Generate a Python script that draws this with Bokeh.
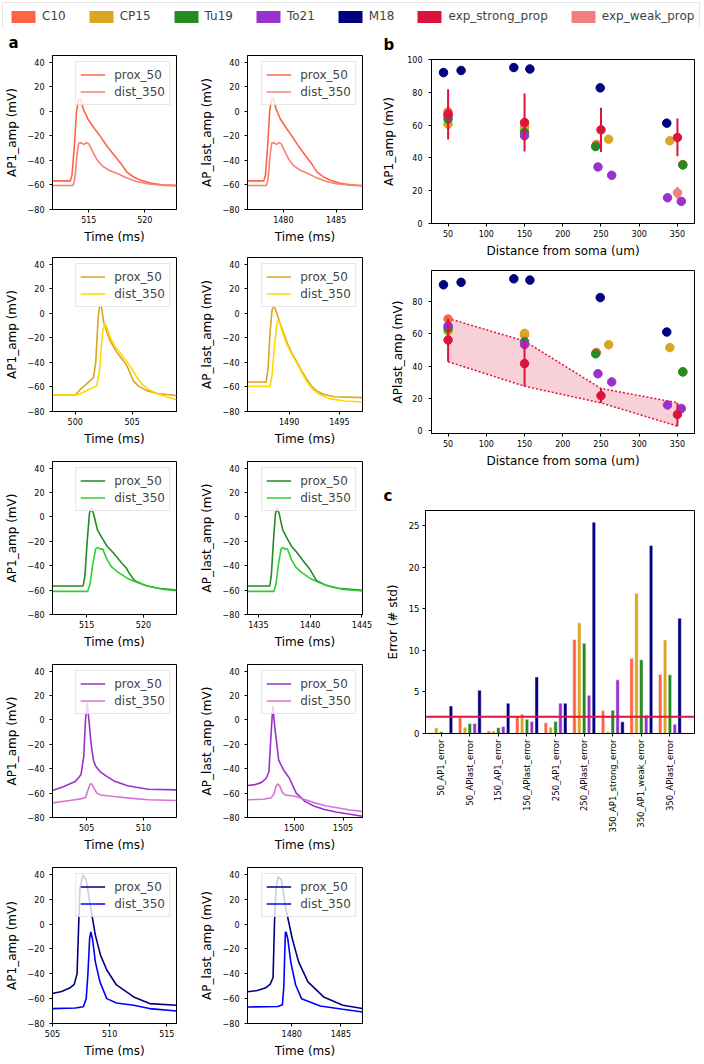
import math
from bokeh.plotting import figure
from bokeh.layouts import row, column
from bokeh.models import (Legend, LegendItem, FixedTicker, SingleIntervalTicker,
                          CustomJSTickFormatter, Span)
from bokeh.embed import file_html
from bokeh.resources import INLINE

FONT = "DejaVu Sans"
NAN = float("nan")

# ---------------- names / colours ----------------
models = ["C10", "CP15", "Tu19", "To21", "M18"]
model_colors = ["tomato", "goldenrod", "forestgreen", "darkorchid", "navy"]
dist_colors = ["salmon", "gold", "limegreen", "orchid", "blue"]
exp_labels = ["exp_strong_prop", "exp_weak_prop"]
exp_colors = ["crimson", "lightcoral"]

# ---------------- panel a : voltage traces (time ms, voltage mV) ----------------
C10_ap1_prox_t = [511.76, 513.35, 513.5, 513.7, 513.9, 514.1, 514.25, 514.5, 514.9, 515.5, 516.0, 516.6, 517.2, 517.5, 517.9, 518.4, 519.0, 519.6, 520.5, 521.5, 522.83]
C10_ap1_prox_v = [-56.7, -56.7, -52, -30, 0, 10.5, 10, 2, -6, -14, -20, -28, -35, -38.5, -43, -49.5, -53.5, -56, -58.5, -59.8, -60.3]
C10_ap1_dist_t = [511.76, 513.6, 513.75, 513.95, 514.1, 514.3, 514.55, 514.8, 515.0, 515.3, 515.7, 516.2, 516.8, 517.5, 518.3, 519.2, 520.2, 521.5, 522.83]
C10_ap1_dist_v = [-60.5, -60.5, -55, -35, -26, -25.5, -27, -25.5, -26.5, -32, -39, -44.5, -48, -50.5, -54, -57, -59, -60.2, -60.8]
C10_last_prox_t = [1476.6, 1478.15, 1478.3, 1478.5, 1478.7, 1478.9, 1479.05, 1479.3, 1479.7, 1480.3, 1480.8, 1481.4, 1482.0, 1482.3, 1482.7, 1483.2, 1483.8, 1484.4, 1485.3, 1486.3, 1487.5]
C10_last_prox_v = [-56.7, -56.7, -52, -30, 0, 11, 10.5, 2, -6, -14, -20, -28, -35, -38.5, -43, -49.5, -53.5, -56, -58.5, -59.8, -60.5]
C10_last_dist_t = [1476.6, 1478.4, 1478.55, 1478.75, 1478.9, 1479.1, 1479.35, 1479.6, 1479.8, 1480.1, 1480.5, 1481.0, 1481.6, 1482.3, 1483.1, 1484.0, 1485.0, 1486.3, 1487.5]
C10_last_dist_v = [-60.5, -60.5, -55, -35, -26, -25.5, -27, -25.5, -26.5, -32, -39, -44.5, -48, -50.5, -54, -57, -59, -60.2, -60.8]

CP15_ap1_prox_t = [498.0, 500.0, 500.5, 501.0, 501.6, 501.8, 502.0, 502.15, 502.3, 502.5, 502.8, 503.1, 503.6, 504.0, 504.5, 504.8, 505.1, 505.6, 506.3, 507.3, 508.9]
CP15_ap1_prox_v = [-66.5, -66.5, -61.5, -57.5, -52.5, -40, -5, 7, 5, -7, -16, -23, -31, -36, -42, -48, -55, -59.5, -63, -65.5, -67]
CP15_ap1_dist_t = [498.0, 500.2, 501.0, 501.9, 502.15, 502.4, 502.6, 502.8, 503.1, 503.5, 504.0, 504.5, 504.9, 505.4, 505.9, 506.5, 507.5, 508.9]
CP15_ap1_dist_v = [-66.5, -66.5, -63, -59, -45, -15, -8, -12, -20, -27, -33, -39, -44, -52, -58, -62.5, -66.5, -70.4]
CP15_last_prox_t = [1485.85, 1487.7, 1487.9, 1488.1, 1488.3, 1488.45, 1488.65, 1489.0, 1489.4, 1489.9, 1490.3, 1490.8, 1491.25, 1491.7, 1492.2, 1492.8, 1493.4, 1494.5, 1497.3]
CP15_last_prox_v = [-56, -56, -45, -15, 3, 6.4, 3, -6, -15, -26, -33, -40, -47, -53, -59, -63.5, -66, -68, -68.7]
CP15_last_dist_t = [1485.85, 1488.1, 1488.3, 1488.55, 1488.75, 1488.9, 1489.1, 1489.4, 1489.8, 1490.3, 1490.8, 1491.3, 1491.8, 1492.3, 1493.0, 1494.0, 1495.5, 1497.3]
CP15_last_dist_v = [-59.5, -59.5, -50, -25, -10, -5.6, -9, -17, -26, -34, -41, -49, -56, -61.5, -66, -69.5, -71.5, -72.3]

Tu19_ap1_prox_t = [512.0, 514.7, 514.85, 515.05, 515.25, 515.4, 515.6, 515.95, 516.4, 516.8, 517.3, 517.7, 518.1, 518.5, 518.7, 519.2, 520.1, 521.3, 522.9]
Tu19_ap1_prox_v = [-56.6, -56.6, -48, -20, 3, 7, 3, -10.5, -18, -24, -29, -33.5, -38, -42, -45.5, -52, -56, -58.5, -60]
Tu19_ap1_dist_t = [512.0, 515.1, 515.3, 515.55, 515.8, 516.0, 516.2, 516.4, 516.8, 517.2, 517.7, 518.6, 519.5, 520.5, 521.8, 522.9]
Tu19_ap1_dist_v = [-61, -61, -55, -38, -26, -25, -26.5, -26, -35, -41, -45, -50.4, -54, -57, -59.5, -60.5]
Tu19_last_prox_t = [1433.95, 1436.1, 1436.25, 1436.45, 1436.65, 1436.8, 1437.0, 1437.35, 1437.8, 1438.2, 1438.7, 1439.1, 1439.5, 1439.9, 1440.15, 1440.6, 1441.5, 1442.7, 1445.05]
Tu19_last_prox_v = [-56.6, -56.6, -48, -20, 3, 7, 3, -10.5, -18, -24, -29, -33.5, -38, -42, -45.5, -52, -56, -58.5, -60.2]
Tu19_last_dist_t = [1433.95, 1436.5, 1436.7, 1436.95, 1437.2, 1437.4, 1437.6, 1437.8, 1438.2, 1438.6, 1439.1, 1440.0, 1440.9, 1441.9, 1443.2, 1445.05]
Tu19_last_dist_v = [-61, -61, -55, -38, -26, -25, -26.5, -26, -35, -41, -45, -50.4, -54, -57, -59.5, -60.7]

To21_ap1_prox_t = [502.0, 503.0, 504.0, 504.5, 504.75, 504.9, 505.05, 505.2, 505.4, 505.6, 505.8, 506.2, 506.8, 507.4, 508.6, 510.4, 512.9]
To21_ap1_prox_v = [-57.9, -54.5, -50.5, -45, -30, 0, 14.3, 0, -20, -33, -38, -42.5, -46.5, -50, -54, -56.8, -57.3]
To21_ap1_dist_t = [502.0, 503.5, 504.6, 504.9, 505.1, 505.3, 505.45, 505.65, 505.9, 506.2, 507.4, 509.0, 510.4, 512.9]
To21_ap1_dist_v = [-68, -66, -64.5, -63.5, -58, -52.5, -52.5, -56, -60, -61.5, -62.8, -64.3, -65.4, -66]
To21_last_prox_t = [1495.2, 1496.0, 1496.6, 1497.1, 1497.4, 1497.6, 1497.8, 1498.0, 1498.4, 1498.9, 1499.5, 1500.2, 1501.1, 1502.0, 1503.1, 1504.4, 1507.0]
To21_last_prox_v = [-53.8, -53, -51.4, -48, -42.5, -14, 11.6, -6, -33, -41, -47.8, -60, -66.8, -70.5, -73.5, -75.7, -79]
To21_last_dist_t = [1495.2, 1496.8, 1497.6, 1497.9, 1498.1, 1498.3, 1498.5, 1498.75, 1499.0, 1500.2, 1501.0, 1502.1, 1503.3, 1504.4, 1505.7, 1507.0]
To21_last_dist_v = [-65.4, -65, -64, -61, -55, -52.4, -54, -59, -61.4, -62.8, -65, -68, -70.5, -72, -73.8, -75]

M18_ap1_prox_t = [505.0, 505.8, 506.5, 506.9, 507.15, 507.3, 507.4, 507.65, 507.95, 508.3, 508.75, 509.2, 509.75, 510.6, 512.1, 513.5, 515.85]
M18_ap1_prox_v = [-55.9, -54.3, -51.5, -48.5, -40, 2, 28.7, 39.5, 35.5, 15.3, -8.9, -25, -37, -49, -58.6, -64, -65.3]
M18_ap1_dist_t = [505.0, 507.0, 507.7, 507.95, 508.1, 508.25, 508.35, 508.5, 508.75, 509.15, 509.75, 510.6, 512.1, 513.5, 515.85]
M18_ap1_dist_v = [-68, -67.5, -66.5, -60, -40, -11.6, -6.2, -12, -30.4, -46.5, -60, -63.5, -65.3, -68, -69.9]
M18_last_prox_t = [1475.5, 1476.5, 1477.3, 1477.8, 1478.1, 1478.25, 1478.4, 1478.6, 1478.95, 1479.4, 1480.05, 1480.7, 1481.65, 1483.25, 1485.2, 1487.2]
M18_last_prox_v = [-54.5, -53.5, -51.5, -48.5, -43, 2, 28.7, 38, 35.5, 12.5, -11.6, -30.4, -46.5, -58.6, -65.3, -68]
M18_last_dist_t = [1475.5, 1478.6, 1479.05, 1479.2, 1479.3, 1479.36, 1479.45, 1479.6, 1479.9, 1480.4, 1481.0, 1482.9, 1485.2, 1487.2]
M18_last_dist_v = [-66.7, -66.3, -65, -50, -20, -6.2, -7, -12, -30.4, -49, -60, -65.9, -68.6, -70.7]

# ---------------- panel b : amplitude vs distance ----------------
C10_dist = [50, 150, 244, 357]
C10_ap1_amp = [68.0, 59.0, 48.2, 36.0]
C10_last_amp = [69.3, 59.5, 48.5, 36.5]
CP15_dist = [50, 150, 260, 340]
CP15_ap1_amp = [60.5, 58.2, 51.4, 50.4]
CP15_last_amp = [61.7, 60.4, 53.3, 51.5]
Tu19_dist = [50, 150, 243, 357]
Tu19_ap1_amp = [63.7, 55.5, 46.9, 35.7]
Tu19_last_amp = [63.5, 55.2, 47.6, 36.3]
To21_dist = [50, 150, 246, 264, 337, 355]
To21_ap1_amp = [66.0, 53.5, 34.5, 29.4, 15.7, 13.5]
To21_last_amp = [65.0, 53.5, 35.2, 30.1, 15.7, 13.5]
M18_dist = [44, 67, 136, 157, 249, 336]
M18_ap1_amp = [92.0, 93.3, 95.1, 94.2, 82.7, 61.2]
M18_last_amp = [90.7, 92.2, 94.4, 93.6, 82.7, 61.2]

exp_dist = [50, 150, 250, 350]
strong_ap1_mean = [66.5, 61.6, 57.1, 52.5]
strong_ap1_std = [15.3, 17.7, 13.5, 11.5]
weak_dist = [350]
weak_ap1_mean = [18.7]
weak_ap1_std = [3.7]
strong_last_mean = [56.2, 41.5, 21.5, 9.8]
strong_last_std = [13.5, 14.1, 4.5, 7.3]

# ---------------- panel c : errors ----------------
error_labels = ["50_AP1_error", "50_APlast_error", "150_AP1_error", "150_APlast_error",
                "250_AP1_error", "250_APlast_error", "350_AP1_strong_error",
                "350_AP1_weak_error", "350_APlast_error"]
err_C10 = [0.1, 1.9, 0.3, 2.1, 1.3, 11.3, 2.75, 9.05, 7.1]
err_CP15 = [0.7, 0.75, 0.3, 2.35, 0.75, 13.3, 0.25, 16.85, 11.25]
err_Tu19 = [0.2, 1.2, 0.7, 1.7, 1.45, 10.85, 2.8, 8.85, 7.05]
err_To21 = [0.05, 1.2, 0.85, 1.45, 3.65, 4.6, 6.45, 2.2, 1.1]
err_M18 = [3.3, 5.2, 3.65, 6.8, 3.65, 25.4, 1.4, 22.6, 13.85]
threshold = 2

MINUS_JS = "return tick < 0 ? '\\u2212' + Math.abs(tick).toString() : tick.toString();"


def style(p, tick_size="8px", lab_std=6, maj_std=5):
    p.outline_line_color = "black"
    p.outline_line_width = 1
    p.xgrid.grid_line_color = None
    p.ygrid.grid_line_color = None
    p.background_fill_color = "white"
    p.border_fill_color = "white"
    for ax in p.axis:
        ax.major_label_text_font = FONT
        ax.major_label_text_font_size = tick_size
        ax.major_label_text_color = "black"
        ax.axis_label_text_font = FONT
        ax.axis_label_text_font_size = "12px"
        ax.axis_label_text_font_style = "normal"
        ax.axis_label_text_color = "black"
        ax.major_tick_in = 0
        ax.major_tick_out = 3
        ax.minor_tick_line_color = None
        ax.axis_line_color = "black"
        ax.major_tick_line_color = "black"
        ax.major_label_standoff = maj_std
        ax.axis_label_standoff = lab_std


def panel_letter(p, letter, offset, standoff):
    p.title.text = letter
    p.title.align = "left"
    p.title.offset = offset
    p.title.standoff = standoff
    p.title.text_font = FONT
    p.title.text_font_size = "15px"
    p.title.text_font_style = "bold"
    p.title.text_color = "black"


def trace_fig(xr, pt, pv, dt, dv, pc, dc, ylabel, width, mbl, mbr, height, mbt, mbb):
    p = figure(width=width, height=height, x_range=xr, y_range=(-80, 45.5),
               output_backend="svg", toolbar_location=None,
               min_border_left=mbl, min_border_right=mbr,
               min_border_top=mbt, min_border_bottom=mbb)
    p.line(pt, pv, line_color=pc, line_width=1.6, legend_label="prox_50")
    p.line(dt, dv, line_color=dc, line_width=1.6, legend_label="dist_350")
    style(p, lab_std=6, maj_std=5)
    p.xaxis.major_label_standoff = 3
    p.xaxis.axis_label_standoff = 4
    p.xaxis.ticker = SingleIntervalTicker(interval=5, num_minor_ticks=0)
    p.yaxis.ticker = FixedTicker(ticks=[-80, -60, -40, -20, 0, 20, 40])
    p.yaxis.formatter = CustomJSTickFormatter(code=MINUS_JS)
    p.xaxis.axis_label = "Time (ms)"
    p.yaxis.axis_label = ylabel
    leg = p.legend[0]
    leg.location = "top_right"
    leg.margin = 6
    leg.padding = 4
    leg.spacing = 0
    leg.glyph_width = 25
    leg.glyph_height = 17
    leg.label_height = 17
    leg.label_standoff = 9
    leg.label_text_font = FONT
    leg.label_text_font_size = "12px"
    leg.border_line_color = "#cccccc"
    leg.border_line_width = 1
    leg.background_fill_alpha = 0.8
    return p


rows_a = [
    ((511.76, 522.83), (1476.6, 1487.5),
     (C10_ap1_prox_t, C10_ap1_prox_v, C10_ap1_dist_t, C10_ap1_dist_v),
     (C10_last_prox_t, C10_last_prox_v, C10_last_dist_t, C10_last_dist_v)),
    ((498.0, 508.9), (1485.85, 1497.3),
     (CP15_ap1_prox_t, CP15_ap1_prox_v, CP15_ap1_dist_t, CP15_ap1_dist_v),
     (CP15_last_prox_t, CP15_last_prox_v, CP15_last_dist_t, CP15_last_dist_v)),
    ((512.0, 522.9), (1433.95, 1445.05),
     (Tu19_ap1_prox_t, Tu19_ap1_prox_v, Tu19_ap1_dist_t, Tu19_ap1_dist_v),
     (Tu19_last_prox_t, Tu19_last_prox_v, Tu19_last_dist_t, Tu19_last_dist_v)),
    ((502.0, 512.9), (1495.2, 1507.0),
     (To21_ap1_prox_t, To21_ap1_prox_v, To21_ap1_dist_t, To21_ap1_dist_v),
     (To21_last_prox_t, To21_last_prox_v, To21_last_dist_t, To21_last_dist_v)),
    ((505.0, 515.85), (1475.5, 1487.2),
     (M18_ap1_prox_t, M18_ap1_prox_v, M18_ap1_dist_t, M18_ap1_dist_v),
     (M18_last_prox_t, M18_last_prox_v, M18_last_dist_t, M18_last_dist_v)),
]
# (top border, bottom border) for each row; frame height 156
row_borders = [(27, 35), (11, 35), (13, 34), (13, 34), (13, 37)]

a_rows = []
for i, (xl, xr, L, R) in enumerate(rows_a):
    mbt, mbb = row_borders[i]
    h = mbt + 156 + mbb
    pl = trace_fig(xl, *L, model_colors[i], dist_colors[i], "AP1_amp (mV)",
                   196, 52, 20, h, mbt, mbb)
    pr = trace_fig(xr, *R, model_colors[i], dist_colors[i], "AP_last_amp (mV)",
                   176, 43, 10, h, mbt, mbb)
    if i == 0:
        panel_letter(pl, "a", -44, 7)
    a_rows.append(row(pl, pr))

left_col = column(*a_rows)

# ---------------- panel b ----------------
b_sets = [
    (C10_dist, C10_ap1_amp, C10_last_amp, model_colors[0]),
    (CP15_dist, CP15_ap1_amp, CP15_last_amp, model_colors[1]),
    (Tu19_dist, Tu19_ap1_amp, Tu19_last_amp, model_colors[2]),
    (To21_dist, To21_ap1_amp, To21_last_amp, model_colors[3]),
    (M18_dist, M18_ap1_amp, M18_last_amp, model_colors[4]),
]


def dist_fig(ylabel, yr, yticks, height, mbt, mbb, lab_std):
    p = figure(width=332, height=height, x_range=(28.3, 372.3), y_range=yr,
               output_backend="svg", toolbar_location=None,
               min_border_left=59, min_border_right=10,
               min_border_top=mbt, min_border_bottom=mbb)
    style(p, lab_std=lab_std, maj_std=6)
    p.xaxis.major_label_standoff = 3
    p.xaxis.axis_label_standoff = 4
    p.xaxis.ticker = FixedTicker(ticks=[50, 100, 150, 200, 250, 300, 350])
    p.yaxis.ticker = FixedTicker(ticks=yticks)
    p.xaxis.axis_label = "Distance from soma (um)"
    p.yaxis.axis_label = ylabel
    return p


b1 = dist_fig("AP1_amp (mV)", (0, 100), [0, 20, 40, 60, 80, 100], 235, 31, 40, 8)
panel_letter(b1, "b", -48, 11)
for xs, ap1, last, col in b_sets:
    b1.scatter(xs, ap1, size=8.5, fill_color=col, line_color=col)
b1.segment(x0=exp_dist, y0=[m - s for m, s in zip(strong_ap1_mean, strong_ap1_std)],
           x1=exp_dist, y1=[m + s for m, s in zip(strong_ap1_mean, strong_ap1_std)],
           line_color=exp_colors[0], line_width=2)
b1.scatter(exp_dist, strong_ap1_mean, size=8.5, fill_color=exp_colors[0], line_color=exp_colors[0])
b1.segment(x0=weak_dist, y0=[m - s for m, s in zip(weak_ap1_mean, weak_ap1_std)],
           x1=weak_dist, y1=[m + s for m, s in zip(weak_ap1_mean, weak_ap1_std)],
           line_color=exp_colors[1], line_width=2)
b1.scatter(weak_dist, weak_ap1_mean, size=8.5, fill_color=exp_colors[1], line_color=exp_colors[1])

b2 = dist_fig("APlast_amp (mV)", (-2.1, 99.6), [0, 20, 40, 60, 80], 212, 7, 42, 4)
lower = [m - s for m, s in zip(strong_last_mean, strong_last_std)]
upper = [m + s for m, s in zip(strong_last_mean, strong_last_std)]
b2.varea(x=exp_dist, y1=lower, y2=upper, fill_color=exp_colors[0], fill_alpha=0.2)
b2.line(exp_dist, upper, line_color=exp_colors[0], line_width=1.5, line_dash="2 2")
b2.line(exp_dist, lower, line_color=exp_colors[0], line_width=1.5, line_dash="2 2")
for xs, ap1, last, col in b_sets:
    b2.scatter(xs, last, size=8.5, fill_color=col, line_color=col)
b2.segment(x0=exp_dist, y0=lower, x1=exp_dist, y1=upper, line_color=exp_colors[0], line_width=2)
b2.scatter(exp_dist, strong_last_mean, size=8.5, fill_color=exp_colors[0], line_color=exp_colors[0])

# ---------------- panel c ----------------
cf = figure(width=332, height=368, x_range=(-0.55, 8.86), y_range=(0, 26.8),
            output_backend="svg", toolbar_location=None,
            min_border_left=53, min_border_right=10, min_border_top=35, min_border_bottom=110)
style(cf, tick_size="8.5px", lab_std=6, maj_std=3)
panel_letter(cf, "c", -42, 12)
offsets = [-0.34, -0.17, 0.0, 0.17, 0.34]
for k, vals in enumerate([err_C10, err_CP15, err_Tu19, err_To21, err_M18]):
    xs = [i + offsets[k] for i in range(len(error_labels))]
    cf.vbar(x=xs, top=vals, width=0.12, fill_color=model_colors[k],
            line_color="white", line_width=0.5)
cf.add_layout(Span(location=threshold, dimension="width", line_color="crimson", line_width=2))
cf.xaxis.ticker = FixedTicker(ticks=list(range(len(error_labels))))
cf.xaxis.major_label_overrides = {i: lab for i, lab in enumerate(error_labels)}
cf.xaxis.major_label_orientation = math.pi / 2
cf.yaxis.ticker = FixedTicker(ticks=[0, 5, 10, 15, 20, 25])
cf.yaxis.axis_label = "Error (# std)"

right_col = column(row(b1), row(b2), row(cf))

# ---------------- global legend ----------------
lg = figure(width=704, height=28, x_range=(0, 704), y_range=(28, 0),
            output_backend="svg", toolbar_location=None, min_border=0,
            x_axis_type=None, y_axis_type=None, outline_line_color=None)
items = []
for name, col in zip(models + exp_labels, model_colors + exp_colors):
    r = lg.quad(left=[NAN], right=[NAN], top=[NAN], bottom=[NAN],
                fill_color=col, line_color=None)
    items.append(LegendItem(label=name, renderers=[r]))
top_leg = Legend(items=items, orientation="horizontal", location="top_left",
                 margin=2, padding=5, spacing=20, glyph_width=30, glyph_height=15,
                 label_height=16, label_standoff=4, label_text_font=FONT,
                 label_text_font_size="12px", border_line_color="#cccccc",
                 background_fill_alpha=1.0)
lg.add_layout(top_leg)

page = column(lg, row(left_col, right_col))
open("out.html", "w").write(file_html(page, INLINE))
